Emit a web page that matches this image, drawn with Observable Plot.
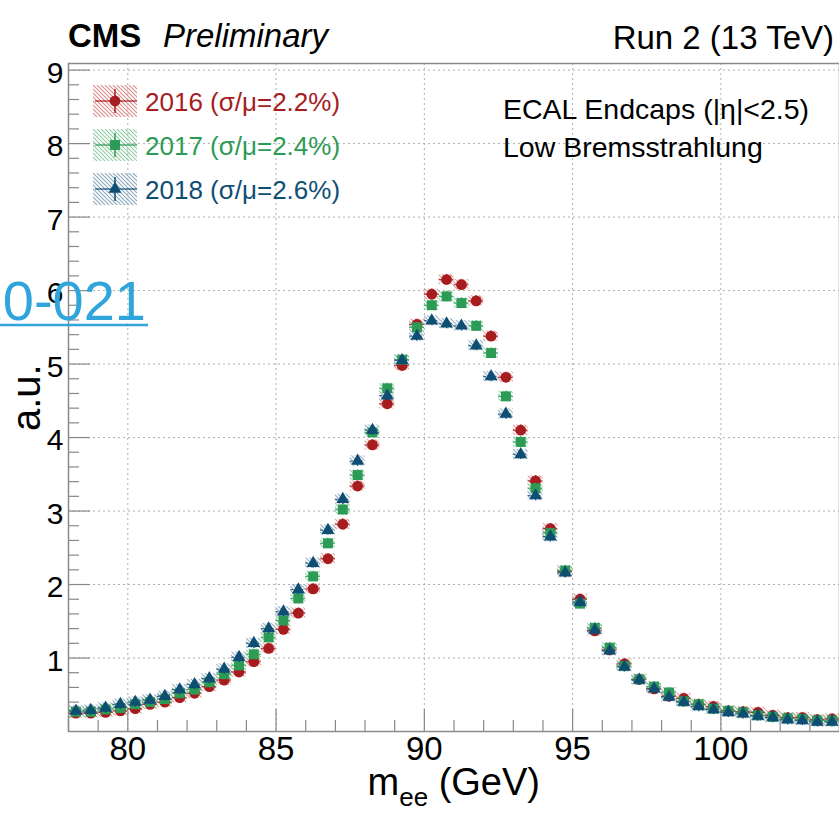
<!DOCTYPE html>
<html><head><meta charset="utf-8">
<script src="https://cdn.jsdelivr.net/npm/d3@7"></script>
<script src="https://cdn.jsdelivr.net/npm/@observablehq/plot@0.6"></script>
<style>body{margin:0;background:#fff;} svg{display:block}</style>
</head><body><div id="chart"></div>
<script>
// ---- data ----
const massBins = [78.25,78.75,79.25,79.75,80.25,80.75,81.25,81.75,82.25,82.75,83.25,83.75,84.25,84.75,85.25,85.75,86.25,86.75,87.25,87.75,88.25,88.75,89.25,89.75,90.25,90.75,91.25,91.75,92.25,92.75,93.25,93.75,94.25,94.75,95.25,95.75,96.25,96.75,97.25,97.75,98.25,98.75,99.25,99.75,100.25,100.75,101.25,101.75,102.25,102.75,103.25,103.75];
const values2016 = [0.25,0.25,0.26,0.28,0.31,0.37,0.40,0.46,0.52,0.61,0.70,0.81,0.95,1.13,1.39,1.61,1.94,2.35,2.82,3.34,3.90,4.46,4.98,5.54,5.95,6.15,6.08,5.86,5.38,4.82,4.10,3.41,2.76,2.18,1.80,1.37,1.11,0.92,0.71,0.58,0.48,0.45,0.37,0.34,0.28,0.27,0.26,0.22,0.19,0.19,0.16,0.17];
const values2017 = [0.27,0.27,0.30,0.32,0.37,0.40,0.44,0.52,0.57,0.67,0.78,0.90,1.05,1.28,1.51,1.81,2.11,2.56,3.02,3.49,4.07,4.67,5.06,5.50,5.80,5.92,5.83,5.52,5.15,4.56,3.94,3.31,2.70,2.19,1.74,1.41,1.14,0.89,0.71,0.61,0.53,0.41,0.37,0.31,0.28,0.26,0.22,0.20,0.18,0.17,0.15,0.15];
const values2018 = [0.28,0.29,0.32,0.37,0.40,0.43,0.48,0.57,0.64,0.72,0.85,1.01,1.20,1.40,1.63,1.93,2.29,2.74,3.16,3.68,4.10,4.57,5.05,5.38,5.59,5.55,5.52,5.25,4.83,4.32,3.77,3.21,2.65,2.16,1.76,1.38,1.10,0.88,0.70,0.58,0.47,0.40,0.34,0.30,0.26,0.24,0.21,0.19,0.16,0.15,0.13,0.13];
const years = ["2016","2017","2018"];
const legendLabels = ["2016 (σ/μ=2.2%)","2017 (σ/μ=2.4%)","2018 (σ/μ=2.6%)"];
const xMajorTicks = [80,85,90,95,100];
const xMinorTicks = [78,79,81,82,83,84,86,87,88,89,91,92,93,94,96,97,98,99,101,102,103,104];
const yMajorTicks = [1,2,3,4,5,6,7,8,9];
const yMinorTicks = [0.2,0.4,0.6,0.8,1.2,1.4,1.6,1.8,2.2,2.4,2.6,2.8,3.2,3.4,3.6,3.8,4.2,4.4,4.6,4.8,5.2,5.4,5.6,5.8,6.2,6.4,6.6,6.8,7.2,7.4,7.6,7.8,8.2,8.4,8.6,8.8];
const experiment = "CMS";
const status = "Preliminary";
const runLabel = "Run 2 (13 TeV)";
const regionLines = ["ECAL Endcaps (|η|<2.5)","Low Bremsstrahlung"];
const linkLabel = "EGM-20-021";
const yTitle = "a.u.";
const halfBin = 0.25;
const bandHalf = 0.07;

// ---- styles ----
const colors = {"2016":"#a61c1f","2017":"#2c9b55","2018":"#0f4e73"};
const hatchColors = {"2016":"#dc8c8c","2017":"#8fcca4","2018":"#8ba9be"};
const symbols = {"2016":"circle","2017":"square","2018":"triangle"};
const radii = {"2016":5.4,"2017":5.6,"2018":4.8};
const seriesValues = {"2016":values2016,"2017":values2017,"2018":values2018};

const W = 839, H = 814;
const mL = 68, mR = 0, mT = 63, mB = 83;
const plotW = W - mL - mR, plotH = H - mT - mB;
const font = "'Liberation Sans', Arial, Helvetica, sans-serif";

const series = years.map(yr => massBins.map((m, i) => ({mass: m, value: seriesValues[yr][i], year: yr})));

const marks = [
  Plot.gridX(xMajorTicks, {stroke: "#9a9a9a", strokeDasharray: "2,3", strokeOpacity: 0.8}),
  Plot.gridY(yMajorTicks, {stroke: "#9a9a9a", strokeDasharray: "2,3", strokeOpacity: 0.8}),
  Plot.ruleY(yMajorTicks, {y: d => d, insetRight: plotW - 22, stroke: "#888", strokeWidth: 1.2}),
  Plot.ruleY(yMinorTicks, {y: d => d, insetRight: plotW - 11, stroke: "#888", strokeWidth: 1.2}),
  Plot.ruleX(xMajorTicks, {x: d => d, insetTop: plotH - 22, stroke: "#888", strokeWidth: 1.2}),
  Plot.ruleX(xMinorTicks, {x: d => d, insetTop: plotH - 11, stroke: "#888", strokeWidth: 1.2}),
  Plot.axisX({ticks: xMajorTicks, tickSize: 0, tickPadding: 5, fontSize: 33, tickFormat: d => d, fill: "#000", label: null}),
  Plot.axisY({ticks: yMajorTicks, tickSize: 0, tickPadding: 5, fontSize: 30, dy: 3, tickFormat: d => d, fill: "#000", label: null}),
];
series.forEach((rows, k) => {
  const yr = years[k];
  marks.push(Plot.rect(rows, {x1: d => d.mass - halfBin, x2: d => d.mass + halfBin, y1: d => d.value - bandHalf, y2: d => d.value + bandHalf, fill: `url(#hatch${yr})`, fillOpacity: 0.9}));
});
series.forEach((rows, k) => {
  const yr = years[k];
  marks.push(Plot.ruleY(rows, {y: "value", x1: d => d.mass - halfBin, x2: d => d.mass + halfBin, stroke: colors[yr], strokeWidth: 1.3, strokeOpacity: 0.8, strokeDasharray: yr === "2018" ? "3,2" : null}));
  marks.push(Plot.ruleX(rows, {x: "mass", y1: d => d.value - bandHalf, y2: d => d.value + bandHalf, stroke: colors[yr], strokeWidth: 1.2}));
  marks.push(Plot.dot(rows, {x: "mass", y: "value", symbol: symbols[yr], r: radii[yr], fill: colors[yr], stroke: "none"}));
});
marks.push(Plot.frame({stroke: "#8a8a8a", strokeWidth: 1.5}));

const chart = Plot.plot({
  width: W, height: H,
  marginLeft: mL, marginRight: mR, marginTop: mT, marginBottom: mB,
  x: {domain: [78, 104], axis: null},
  y: {domain: [0, 9.09], axis: null},
  style: {fontFamily: font, background: "#fff", overflow: "visible"},
  marks
});
document.getElementById("chart").appendChild(chart);

const svg = d3.select(chart);
const defs = svg.insert("defs", ":first-child");
years.forEach(yr => {
  const p = defs.append("pattern").attr("id", `hatch${yr}`).attr("patternUnits", "userSpaceOnUse")
    .attr("width", 4).attr("height", 4);
  p.append("path").attr("d", "M-1,-1 L5,5 M-1,3 L1,5 M3,-1 L5,1")
    .attr("stroke", hatchColors[yr]).attr("stroke-width", 1.1);
});

// ---- legend ----
const lg = svg.append("g").attr("font-family", font).attr("text-anchor", "start");
years.forEach((yr, k) => {
  const cy = 101 + 44 * k;
  lg.append("rect").attr("x", 93).attr("y", cy - 16).attr("width", 44).attr("height", 32).attr("fill", `url(#hatch${yr})`);
  lg.append("line").attr("x1", 95).attr("x2", 137).attr("y1", cy).attr("y2", cy).attr("stroke", colors[yr]).attr("stroke-width", 1.5).attr("stroke-opacity", 0.8);
  lg.append("line").attr("x1", 115).attr("x2", 115).attr("y1", cy - 12).attr("y2", cy + 12).attr("stroke", colors[yr]).attr("stroke-width", 1.5);
  const sym = {circle: d3.symbolCircle, square: d3.symbolSquare, triangle: d3.symbolTriangle}[symbols[yr]];
  lg.append("path").attr("transform", `translate(115,${cy})`).attr("d", d3.symbol(sym, Math.PI * radii[yr] * radii[yr])()).attr("fill", colors[yr]);
  lg.append("text").attr("x", 145).attr("y", cy + 10).attr("font-size", 26).attr("fill", colors[yr]).attr("text-anchor", "start").text(legendLabels[k]);
});

// ---- titles ----
const tg = svg.append("g").attr("font-family", font).attr("fill", "#000").attr("text-anchor", "start");
tg.append("text").attr("x", 68).attr("y", 47).attr("font-size", 33).attr("font-weight", "bold").attr("text-anchor", "start").text(experiment);
tg.append("text").attr("x", 163).attr("y", 47).attr("font-size", 33).attr("font-style", "italic").attr("text-anchor", "start").text(status);
tg.append("text").attr("x", 834).attr("y", 49).attr("font-size", 33).attr("text-anchor", "end").text(runLabel);
regionLines.forEach((t, i) => tg.append("text").attr("x", 503).attr("y", 119 + 38 * i).attr("font-size", 28.5).attr("text-anchor", "start").text(t));
tg.append("text").attr("transform", "translate(40,431) rotate(-90)").attr("font-size", 40).attr("text-anchor", "start").text(yTitle);
const xt = tg.append("text").attr("x", 540).attr("y", 795).attr("font-size", 38).attr("text-anchor", "end");
xt.append("tspan").text("m");
xt.append("tspan").attr("font-size", 26).attr("dy", 11).text("ee");
xt.append("tspan").attr("dy", -11).text(" (GeV)");

// ---- link overlay ----
tg.append("text").attr("x", 146).attr("y", 320).attr("font-size", 56).attr("text-anchor", "end").attr("fill", "#2fa5dc").text(linkLabel);
tg.append("line").attr("x1", 0).attr("x2", 148).attr("y1", 325).attr("y2", 325).attr("stroke", "#2fa5dc").attr("stroke-width", 2.5);
</script>
</body></html>
